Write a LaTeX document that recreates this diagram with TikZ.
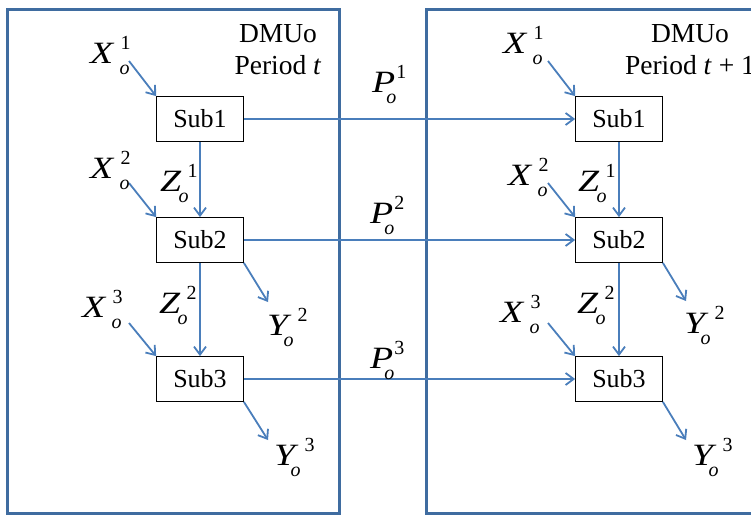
\documentclass[tikz,border=0pt]{standalone}
\usepackage{fontspec}
\setmainfont{Liberation Serif}
\usetikzlibrary{arrows.meta}
\definecolor{arr}{HTML}{4A7EBB}
\definecolor{frm}{HTML}{3F6CA0}
\newcommand\scfont{\fontsize{20}{20}\selectfont}
\newcommand\lbl[5]{\scalebox{1.22}[1]{\textit{#1}}\makebox[0pt][l]{\kern#4\raisebox{-11pt}{\scfont\textit{#3}}}\kern#5\raisebox{14pt}{\scfont #2}}
\newcommand\LX[1]{\lbl{X}{#1}{o}{5pt}{6pt}}
\newcommand\LY[1]{\lbl{Y}{#1}{o}{-8pt}{6pt}}
\newcommand\LZ[1]{\lbl{Z}{#1}{o}{-3pt}{6pt}}
\newcommand\LP[1]{\lbl{P}{#1}{o}{-9pt}{1pt}}
\begin{document}
\begin{tikzpicture}[x=1pt,y=-1pt,
 sub/.style={draw=black, line width=0.8pt, minimum width=87pt, minimum height=45pt, inner sep=0pt, font=\fontsize{26}{26}\selectfont},
 lab/.style={anchor=base west, inner sep=0pt, font=\fontsize{31}{31}\selectfont},
 ttl/.style={anchor=base, inner sep=0pt, font=\fontsize{27.5}{27.5}\selectfont},
 flow/.style={draw=arr, line width=1.8pt, -{Straight Barb[length=8pt,width=12pt,line width=1.8pt]}},
 frame/.style={draw=frm, line width=3pt}]
\useasboundingbox (0,0) rectangle (751,515);
\clip (0,0) rectangle (751,515);
% frames
\draw[frame] (7,9) rectangle (339,513);
\draw[frame] (426,9) rectangle (780,513);
% titles
\node[ttl] (dl1) at (278,42) {DMUo};
\node[ttl] (dl2) at (278,74) {Period \textit{t}};
\node[ttl] (dr1) at (690,42) {DMUo};
\node[ttl] (dr2) at (690,74) {Period \textit{t} + 1};
% boxes
\node[sub] (a1) at (200,119) {Sub1};
\node[sub] (a2) at (200,240) {Sub2};
\node[sub] (a3) at (200,379) {Sub3};
\node[sub] (b1) at (619,119) {Sub1};
\node[sub] (b2) at (619,240) {Sub2};
\node[sub] (b3) at (619,379) {Sub3};
% coordinates
\coordinate (xa1) at (129,61);
\coordinate (xa2) at (129,183);
\coordinate (xa3) at (129,323);
\coordinate (xb1) at (548,61);
\coordinate (xb2) at (548,183);
\coordinate (xb3) at (548,323);
\coordinate (ya2) at (268,302);
\coordinate (ya3) at (268,440);
\coordinate (yb2) at (686,301);
\coordinate (yb3) at (686,440);
% arrows
\draw[flow] (xa1) -- (a1.north west);
\draw[flow] (xa2) -- (a2.north west);
\draw[flow] (xa3) -- (a3.north west);
\draw[flow] (xb1) -- (b1.north west);
\draw[flow] (xb2) -- (b2.north west);
\draw[flow] (xb3) -- (b3.north west);
\draw[flow] (a1) -- (a2);
\draw[flow] (a2) -- (a3);
\draw[flow] (b1) -- (b2);
\draw[flow] (b2) -- (b3);
\draw[flow] (a2.south east) -- (ya2);
\draw[flow] (a3.south east) -- (ya3);
\draw[flow] (b2.south east) -- (yb2);
\draw[flow] (b3.south east) -- (yb3);
\draw[flow] (a1) -- (b1);
\draw[flow] (a2) -- (b2);
\draw[flow] (a3) -- (b3);
% labels
\node[lab] (lx1) at (90,63) {\LX{1}};
\node[lab] (lx2) at (90,178) {\LX{2}};
\node[lab] (lx3) at (82,317) {\LX{3}};
\node[lab] (lz1) at (160,191) {\LZ{1}};
\node[lab] (lz2) at (159,313) {\LZ{2}};
\node[lab] (ly2) at (267,335) {\LY{2}};
\node[lab] (ly3) at (274,465) {\LY{3}};
\node[lab] (p1) at (372,92) {\LP{1}};
\node[lab] (p2) at (370,223) {\LP{2}};
\node[lab] (p3) at (370,368) {\LP{3}};
\node[lab] (rx1) at (503,53) {\LX{1}};
\node[lab] (rx2) at (508,185) {\LX{2}};
\node[lab] (rx3) at (500,322) {\LX{3}};
\node[lab] (rz1) at (578,191) {\LZ{1}};
\node[lab] (rz2) at (577,313) {\LZ{2}};
\node[lab] (ry2) at (684,333) {\LY{2}};
\node[lab] (ry3) at (692,465) {\LY{3}};
\end{tikzpicture}
\end{document}
